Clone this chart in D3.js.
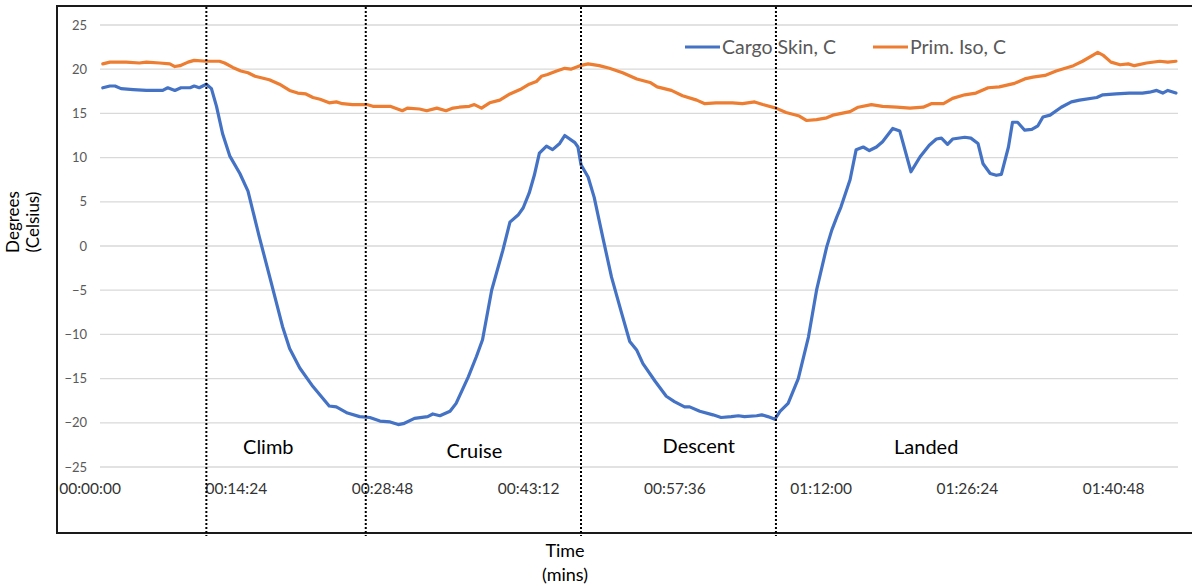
<!DOCTYPE html>
<html>
<head>
<meta charset="utf-8">
<script src="https://cdn.jsdelivr.net/npm/d3@7"></script>
<style>
  html, body { margin: 0; padding: 0; background: #fff; }
  svg { display: block; font-family: Lato, "Open Sans", sans-serif; }
</style>
</head>
<body>
<svg id="chart" width="1192" height="585"></svg>
<script>
// Elapsed flight time (minutes) and temperature (°C) for each sensor
const cargoSkinTime = [1.3, 2.0, 2.5, 3.1, 4.3, 5.6, 6.9, 7.2, 7.7, 8.4, 9.0, 9.9, 10.3, 10.8, 11.5, 12.0, 12.5, 13.1, 13.8, 14.8,
  15.6, 16.7, 17.9, 19.0, 19.7, 20.7, 22.0, 23.6, 24.3, 25.4, 26.6, 27.6, 28.6, 29.6, 30.4, 30.9, 32.0, 33.3, 33.8, 34.5,
  35.5, 36.1, 37.3, 38.1, 38.7, 39.6, 40.7, 41.4, 42.2, 42.7, 43.3, 43.8, 44.3, 45.0, 45.6, 46.3, 46.8, 47.8, 48.1, 48.4,
  49.1, 49.7, 50.6, 51.4, 52.4, 53.2, 53.9, 54.5, 55.7, 56.8, 57.6, 58.6, 59.1, 60.1, 61.4, 62.2, 63.2, 63.9, 64.5, 65.7,
  66.2, 66.8, 67.5, 68.0, 68.8, 69.8, 70.8, 71.6, 72.6, 73.1, 73.6, 74.0, 74.9, 75.5, 76.2, 76.8, 77.5, 78.1, 79.1, 79.8,
  80.9, 81.8, 82.7, 83.4, 83.9, 84.5, 85.0, 86.2, 86.8, 87.5, 88.0, 88.7, 89.3, 89.8, 90.5, 90.9, 91.4, 92.1, 92.8, 93.4,
  93.9, 94.6, 95.7, 96.7, 97.5, 99.2, 99.8, 101.1, 102.4, 103.7, 104.4, 105.1, 105.7, 106.2, 107.0];
const cargoSkinTemp = [17.9, 18.1, 18.1, 17.8, 17.7, 17.6, 17.6, 17.6, 17.9, 17.6, 17.9, 17.9, 18.1, 17.9, 18.3, 17.8, 15.8, 12.7, 10.2, 8.2,
  6.2, 1.1, -4.2, -9.1, -11.6, -13.8, -15.9, -18.1, -18.2, -18.9, -19.3, -19.4, -19.8, -19.9, -20.2, -20.1, -19.5, -19.3, -19.0, -19.2,
  -18.7, -17.8, -14.8, -12.5, -10.6, -5.0, -0.5, 2.7, 3.5, 4.3, 6.0, 8.0, 10.5, 11.3, 10.9, 11.6, 12.5, 11.7, 11.2, 9.2,
  7.8, 5.5, 0.7, -3.5, -7.6, -10.8, -11.8, -13.3, -15.3, -17.0, -17.6, -18.2, -18.2, -18.7, -19.1, -19.4, -19.3, -19.2, -19.3, -19.2,
  -19.1, -19.3, -19.6, -18.7, -17.8, -15.0, -10.3, -5.0, -0.1, 1.8, 3.3, 4.4, 7.5, 10.9, 11.2, 10.8, 11.2, 11.8, 13.3, 13.0,
  8.4, 10.1, 11.4, 12.1, 12.2, 11.5, 12.1, 12.3, 12.2, 11.6, 9.3, 8.2, 8.0, 8.1, 11.2, 14.0, 14.0, 13.1, 13.2, 13.6,
  14.6, 14.8, 15.7, 16.3, 16.5, 16.8, 17.1, 17.2, 17.3, 17.3, 17.4, 17.6, 17.3, 17.6, 17.3];

const primIsoTime = [1.3, 2.0, 3.6, 4.9, 5.6, 6.9, 7.9, 8.4, 8.9, 9.7, 10.3, 11.5, 12.8, 13.3, 14.1, 14.9, 15.6, 16.3, 17.0, 17.7,
  18.7, 19.7, 20.5, 21.3, 22.0, 22.7, 23.6, 24.3, 24.9, 25.9, 27.3, 27.9, 28.6, 29.6, 30.8, 31.3, 32.5, 33.2, 34.2, 35.1,
  35.8, 36.4, 37.4, 37.9, 38.6, 39.4, 40.4, 41.4, 42.4, 43.3, 44.0, 44.5, 45.1, 46.0, 46.8, 47.4, 48.3, 49.1, 50.2, 51.2,
  52.5, 53.9, 55.2, 55.9, 57.3, 58.4, 59.8, 60.6, 61.7, 63.3, 64.3, 65.5, 66.3, 67.6, 68.6, 69.9, 70.6, 71.6, 72.6, 73.2,
  74.9, 75.7, 77.0, 78.1, 79.5, 80.8, 82.1, 82.9, 84.1, 85.0, 86.2, 87.3, 88.5, 89.6, 91.1, 92.1, 92.9, 94.1, 95.2, 96.9,
  97.8, 99.3, 99.8, 100.6, 101.5, 102.3, 102.9, 104.1, 105.4, 106.2, 107.0];
const primIsoTemp = [20.6, 20.8, 20.8, 20.7, 20.8, 20.7, 20.6, 20.3, 20.4, 20.8, 21.0, 20.9, 20.9, 20.7, 20.2, 19.8, 19.6, 19.2, 19.0, 18.8,
  18.3, 17.6, 17.3, 17.2, 16.8, 16.6, 16.2, 16.3, 16.1, 16.0, 16.0, 15.8, 15.8, 15.8, 15.3, 15.6, 15.5, 15.3, 15.6, 15.3,
  15.6, 15.7, 15.8, 16.0, 15.6, 16.2, 16.5, 17.2, 17.7, 18.3, 18.6, 19.2, 19.4, 19.8, 20.1, 20.0, 20.4, 20.6, 20.4, 20.1,
  19.6, 18.9, 18.5, 18.0, 17.6, 17.0, 16.5, 16.1, 16.2, 16.2, 16.1, 16.3, 16.0, 15.6, 15.1, 14.7, 14.2, 14.3, 14.5, 14.8,
  15.2, 15.7, 16.0, 15.8, 15.7, 15.6, 15.7, 16.1, 16.1, 16.7, 17.1, 17.3, 17.9, 18.0, 18.4, 18.9, 19.1, 19.3, 19.8, 20.4,
  20.9, 21.9, 21.6, 20.8, 20.5, 20.6, 20.4, 20.7, 20.9, 20.8, 20.9];

const seriesNames = ["Cargo Skin, C", "Prim. Iso, C"];
const seriesColors = ["#4472C4", "#ED7D31"];

const yTicks = [-25, -20, -15, -10, -5, 0, 5, 10, 15, 20, 25];
const xTickMinutes = [0, 14.4, 28.8, 43.2, 57.6, 72, 86.4, 100.8];
const xTickLabels = ["00:00:00", "00:14:24", "00:28:48", "00:43:12", "00:57:36", "01:12:00", "01:26:24", "01:40:48"];

// Flight phases: boundaries (minutes) and where each phase name sits
const phaseBreaks = [11.5, 27.2, 48.4, 67.6];
const phaseNames = ["Climb", "Cruise", "Descent", "Landed"];
const phaseLabelMinutes = [17.6, 37.9, 60.0, 82.4];

const svg = d3.select("#chart");

const frame = { left: 57, top: 6, bottom: 533 };
const grid = { left: 100, right: 1178 };

const x = d3.scaleLinear().domain([0, 107.2]).range([89.6, 1178]);
const y = d3.scaleLinear().domain([-25, 25]).range([467, 25]);

// Outer frame (open on the right)
svg.append("path")
  .attr("d", `M1200,${frame.top} H${frame.left} V${frame.bottom} H1200`)
  .attr("fill", "none")
  .attr("stroke", "#1a1a1a")
  .attr("stroke-width", 2);

// Horizontal gridlines
svg.append("g")
  .selectAll("line")
  .data(yTicks)
  .join("line")
  .attr("x1", grid.left)
  .attr("x2", grid.right)
  .attr("y1", d => y(d))
  .attr("y2", d => y(d))
  .attr("stroke", "#d9d9d9")
  .attr("stroke-width", 1.3);

// Y axis labels
const yAxis = svg.append("g")
  .attr("transform", `translate(${grid.left},0)`)
  .call(d3.axisLeft(y).tickValues(yTicks).tickSize(0).tickPadding(13));
yAxis.select(".domain").remove();
yAxis.selectAll("text")
  .attr("fill", "#595959")
  .style("font-family", "Lato, sans-serif")
  .style("font-size", "13px");

// X axis labels
const xAxis = svg.append("g")
  .attr("transform", "translate(0,480)")
  .call(d3.axisBottom(x).tickValues(xTickMinutes).tickFormat((d, i) => xTickLabels[i]).tickSize(0).tickPadding(3));
xAxis.select(".domain").remove();
xAxis.selectAll("text")
  .attr("fill", "#333333")
  .style("font-family", "Lato, sans-serif")
  .style("font-size", "15.5px");

// Temperature lines
const line = d3.line()
  .x(d => x(d[0]))
  .y(d => y(d[1]));

const series = [
  d3.zip(cargoSkinTime, cargoSkinTemp),
  d3.zip(primIsoTime, primIsoTemp)
];

svg.append("g")
  .selectAll("path")
  .data(series)
  .join("path")
  .attr("d", line)
  .attr("fill", "none")
  .attr("stroke", (d, i) => seriesColors[i])
  .attr("stroke-width", 3.2)
  .attr("stroke-linejoin", "round")
  .attr("stroke-linecap", "round");

// Legend
const legendPos = [685, 873];
const legend = svg.append("g")
  .selectAll("g")
  .data(seriesNames)
  .join("g")
  .attr("transform", (d, i) => `translate(${legendPos[i]},47)`);
legend.append("line")
  .attr("x1", 0).attr("x2", 35)
  .attr("stroke", (d, i) => seriesColors[i])
  .attr("stroke-width", 3.2);
legend.append("text")
  .attr("x", 37)
  .attr("dy", "0.35em")
  .attr("fill", "#595959")
  .style("font-size", "19.5px")
  .text(d => d);

// Phase names
const phaseLabelY = [447, 451, 446, 447];
svg.append("g")
  .selectAll("text")
  .data(phaseNames)
  .join("text")
  .attr("x", (d, i) => x(phaseLabelMinutes[i]))
  .attr("y", (d, i) => phaseLabelY[i])
  .attr("dy", "0.35em")
  .attr("text-anchor", "middle")
  .attr("fill", "#000")
  .style("font-size", "20px")
  .text(d => d);

// Axis titles
const yTitle = svg.append("g").attr("fill", "#000").style("font-size", "17px");
yTitle.append("text")
  .attr("transform", "translate(19,222) rotate(-90)")
  .attr("text-anchor", "middle")
  .text("Degrees");
yTitle.append("text")
  .attr("transform", "translate(39,222) rotate(-90)")
  .attr("text-anchor", "middle")
  .text("(Celsius)");

const xTitle = svg.append("g").attr("fill", "#000").style("font-size", "18px").attr("text-anchor", "middle");
xTitle.append("text").attr("x", 565).attr("y", 557).text("Time");
xTitle.append("text").attr("x", 565).attr("y", 581).text("(mins)");

// Phase boundaries (dotted, drawn over everything)
svg.append("g")
  .selectAll("line")
  .data(phaseBreaks)
  .join("line")
  .attr("x1", d => x(d))
  .attr("x2", d => x(d))
  .attr("y1", frame.top + 1)
  .attr("y2", frame.bottom + 3)
  .attr("stroke", "#000")
  .attr("stroke-width", 2)
  .attr("stroke-dasharray", "2,2");
</script>
</body>
</html>
